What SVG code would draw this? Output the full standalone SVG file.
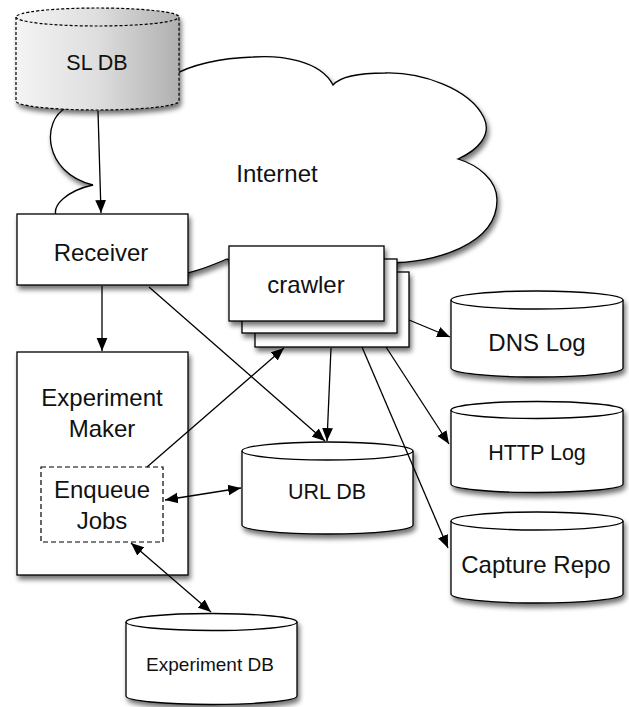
<svg xmlns="http://www.w3.org/2000/svg" width="629" height="707" viewBox="0 0 629 707">
  <style>
    .shape { fill: #ffffff; stroke: #000000; stroke-width: 1.3; }
    .line { fill: none; stroke: #000000; stroke-width: 1.3; }
    .lbl { font-family: "Liberation Sans", Arial, Helvetica, sans-serif; fill: #111111; text-anchor: middle; }
    .big { font-size: 24px; }
    .mid { font-size: 21.5px; }
    .small { font-size: 19px; }
  </style>
  <defs>
    <filter id="shadow" x="-20%" y="-20%" width="150%" height="150%">
      <feGaussianBlur in="SourceAlpha" stdDeviation="2.5"/>
      <feOffset dx="2" dy="4" result="off"/>
      <feComponentTransfer><feFuncA type="linear" slope="0.55"/></feComponentTransfer>
      <feMerge><feMergeNode/><feMergeNode in="SourceGraphic"/></feMerge>
    </filter>
    <linearGradient id="grayFill" x1="0" y1="0" x2="1" y2="0">
      <stop offset="0" stop-color="#f4f4f4"/>
      <stop offset="0.5" stop-color="#dedede"/>
      <stop offset="1" stop-color="#b0b0b0"/>
    </linearGradient>
    <marker id="head" markerUnits="userSpaceOnUse" markerWidth="14" markerHeight="12" refX="12" refY="5" orient="auto-start-reverse" viewBox="0 0 13 10">
      <path d="M0,0 L12,5 L0,10 Z" fill="#000"/>
    </marker>
  </defs>

  <!-- Internet cloud -->
  <g id="internet">
    <path class="shape" filter="url(#shadow)" d="M66,108 C42,120 42,172 93,185 C70,190 48,205 58,220 L160,278 C190,275 210,266 227,259 L300,300 L385,263 C435,263 497,245 497,200 C497,180 478,165 458,159 C478,150 492,135 484,118 C470,88 420,72 385,73 C360,73 340,77 333,85 C320,60 280,55 253,57 C220,58 190,65 172,76 Z"/>
    <text class="lbl big" x="277" y="182">Internet</text>
  </g>

  <!-- SL DB (dashed, shaded cylinder) -->
  <g id="sl-db">
    <path filter="url(#shadow)" fill="url(#grayFill)" stroke="#000" stroke-width="1.2" stroke-dasharray="3,2" d="M16,17 V101 A81.5,9 0 0 0 179,101 V17 A81.5,9 0 0 0 16,17 Z"/>
    <path fill="none" stroke="#000" stroke-width="1.2" stroke-dasharray="3,2" d="M16,17 A81.5,9 0 0 0 179,17"/>
    <text class="lbl mid" x="97" y="70">SL DB</text>
  </g>

  <!-- Receiver -->
  <g id="receiver">
    <rect class="shape" filter="url(#shadow)" x="17" y="214" width="171" height="71"/>
    <text class="lbl big" x="101" y="261">Receiver</text>
  </g>

  <!-- crawler (stacked instances) -->
  <g id="crawler">
    <rect class="shape" filter="url(#shadow)" x="255" y="272" width="154" height="75"/>
    <rect class="shape" filter="url(#shadow)" x="242" y="259" width="155" height="74"/>
    <rect class="shape" filter="url(#shadow)" x="229" y="246" width="155" height="75"/>
    <text class="lbl big" x="306" y="293">crawler</text>
  </g>

  <!-- Experiment Maker with Enqueue Jobs inside -->
  <g id="experiment-maker">
    <rect class="shape" filter="url(#shadow)" x="17" y="352" width="171" height="223"/>
    <text class="lbl big" x="102" y="406">Experiment</text>
    <text class="lbl big" x="102" y="437">Maker</text>
  </g>
  <g id="enqueue-jobs">
    <rect x="41" y="467" width="122" height="75" fill="none" stroke="#000" stroke-width="1.2" stroke-dasharray="5,3"/>
    <text class="lbl big" x="102" y="498">Enqueue</text>
    <text class="lbl big" x="102" y="529">Jobs</text>
  </g>

  <!-- URL DB -->
  <g id="url-db">
    <path class="shape" filter="url(#shadow)" d="M242,451 V525 A85.5,9 0 0 0 413,525 V451 A85.5,9 0 0 0 242,451 Z"/>
    <path class="line" d="M242,451 A85.5,9 0 0 0 413,451"/>
    <text class="lbl mid" x="327" y="499">URL DB</text>
  </g>

  <!-- DNS Log -->
  <g id="dns-log">
    <path class="shape" filter="url(#shadow)" d="M451,300 V368 A86,9 0 0 0 623,368 V300 A86,9 0 0 0 451,300 Z"/>
    <path class="line" d="M451,300 A86,9 0 0 0 623,300"/>
    <text class="lbl big" x="537" y="351">DNS Log</text>
  </g>

  <!-- HTTP Log -->
  <g id="http-log">
    <path class="shape" filter="url(#shadow)" d="M451,410 V484 A86,8.5 0 0 0 623,484 V410 A86,8.5 0 0 0 451,410 Z"/>
    <path class="line" d="M451,410 A86,8.5 0 0 0 623,410"/>
    <text class="lbl mid" x="537" y="460">HTTP Log</text>
  </g>

  <!-- Capture Repo -->
  <g id="capture-repo">
    <path class="shape" filter="url(#shadow)" d="M451,521 V594 A86,9 0 0 0 623,594 V521 A86,9 0 0 0 451,521 Z"/>
    <path class="line" d="M451,521 A86,9 0 0 0 623,521"/>
    <text class="lbl big" x="536" y="573">Capture Repo</text>
  </g>

  <!-- Experiment DB -->
  <g id="experiment-db">
    <path class="shape" filter="url(#shadow)" d="M126,622 V696 A85.5,8.5 0 0 0 297,696 V622 A85.5,8.5 0 0 0 126,622 Z"/>
    <path class="line" d="M126,622 A85.5,8.5 0 0 0 297,622"/>
    <text class="lbl small" x="210" y="671">Experiment DB</text>
  </g>

  <!-- connectors -->
  <g id="connectors">
    <line class="line" x1="98" y1="111" x2="101" y2="213" marker-end="url(#head)"/>
    <line class="line" x1="102" y1="286" x2="102" y2="351" marker-end="url(#head)"/>
    <line class="line" x1="149" y1="287" x2="325" y2="441" marker-end="url(#head)"/>
    <line class="line" x1="331" y1="348" x2="327" y2="441" marker-end="url(#head)"/>
    <line class="line" x1="147" y1="467" x2="284" y2="348" marker-end="url(#head)"/>
    <line class="line" x1="165" y1="500" x2="241" y2="488" marker-start="url(#head)" marker-end="url(#head)"/>
    <line class="line" x1="131" y1="543" x2="211" y2="612" marker-start="url(#head)" marker-end="url(#head)"/>
    <line class="line" x1="409" y1="320" x2="450" y2="337" marker-end="url(#head)"/>
    <line class="line" x1="386" y1="347" x2="449" y2="444" marker-end="url(#head)"/>
    <line class="line" x1="362" y1="347" x2="448" y2="548" marker-end="url(#head)"/>
  </g>
</svg>
